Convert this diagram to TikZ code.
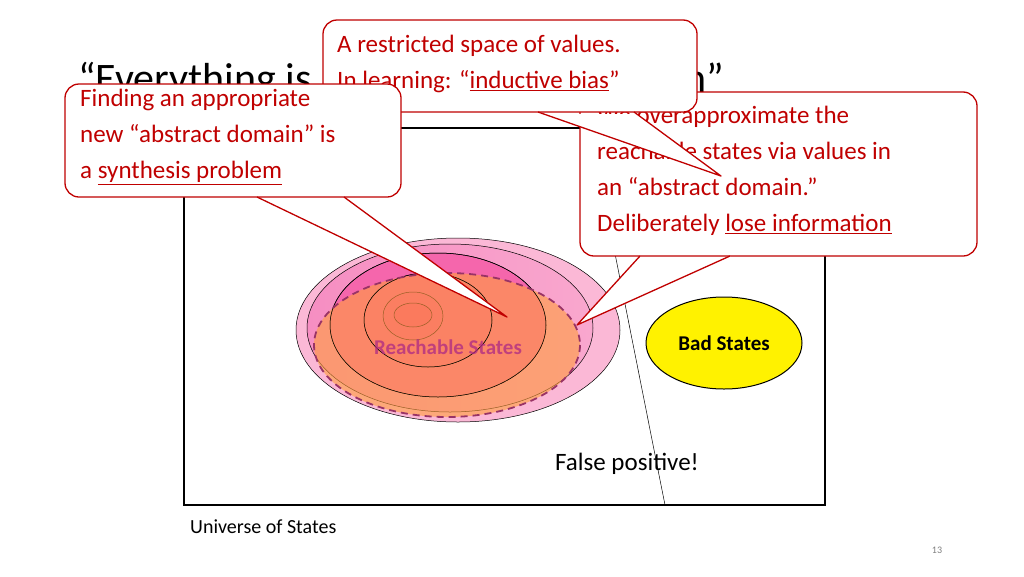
\documentclass[tikz,border=0pt]{standalone}
\usepackage{fontspec}
\setmainfont{Carlito}
\usetikzlibrary{shapes.geometric}
\definecolor{cred}{HTML}{C00000}
\definecolor{p1}{HTML}{FBB8D6}
\definecolor{p2}{HTML}{F68EC2}
\definecolor{p3}{HTML}{F566AC}
\definecolor{p4}{HTML}{F55AA2}
\definecolor{p5}{HTML}{F64E99}
\definecolor{p6}{HTML}{F74490}
\definecolor{orng}{HTML}{FF9E3C}
\definecolor{dpurp}{HTML}{993366}
\begin{document}
\begin{tikzpicture}[x=1pt,y=-1pt,
  ctext/.style={text=cred,align=left,anchor=north west,inner sep=0pt,font=\fontsize{25}{36}\selectfont},
  cbox/.style={draw=cred,fill=white,line width=1.3pt,rounded corners=14},
  cptr/.style={draw=cred,line width=1.3pt,line join=round}]
\tikzset{ell/.style={draw=black,line width=0.5pt}}
\useasboundingbox (0,0) rectangle (1024,576);
\fill[white] (0,0) rectangle (1024,576);
% title
\node[anchor=base west,inner sep=0pt,font=\fontsize{42}{48}\selectfont] (title) at (78,92) {“Everything is abstract interpretation”};
% universe
\draw[line width=1.5pt] (184,128) rectangle (825,505);
\coordinate (d1) at (590,128); \coordinate (d2) at (665,505);
\draw[line width=0.5pt] (d1) -- (d2);
% ellipses
\draw[ell,fill=p1] (458,330) ellipse [x radius=162,y radius=92];
\draw[ell,left color=p2,right color=p1!60!p2] (450,328) ellipse [x radius=143,y radius=84];
\draw[ell,fill=p3] (438,325) ellipse [x radius=108,y radius=72];
\draw[ell,fill=p4] (428,320) ellipse [x radius=64,y radius=47];
\draw[ell,fill=p5] (413,316) ellipse [x radius=30,y radius=24];
\draw[ell,fill=p6] (413,315) ellipse [x radius=19,y radius=12];
\fill[orng,opacity=0.6] (447,345) ellipse [x radius=133,y radius=72];
\draw[ell] (438,325) ellipse [x radius=108,y radius=72];
\draw[ell] (428,320) ellipse [x radius=64,y radius=47];
\draw[dpurp,line width=1.8pt,dash pattern=on 7pt off 5pt] (447,345) ellipse [x radius=133,y radius=72];
\node[text=dpurp!80!magenta,opacity=0.75,font=\bfseries\fontsize{21}{24}\selectfont] (reach) at (448,347) {Reachable States};
% bad states
\node[draw=black,line width=1pt,fill=yellow,ellipse,minimum width=156pt,minimum height=92pt,font=\bfseries\fontsize{21}{24}\selectfont,inner sep=0pt] (bad) at (724,343) {Bad States};
\node[font=\fontsize{25}{30}\selectfont] (fp) at (627,464) {False positive!};
\node[font=\fontsize{20}{24}\selectfont,anchor=base west,inner sep=0pt] (uni) at (190,533) {Universe of States};
\node[font=\fontsize{10}{12}\selectfont,text=gray] (pg) at (937,550) {13};
% right callout
\coordinate (rt) at (577,325);
\coordinate (ra) at (640,256); \coordinate (rb) at (730,256);
\draw[cbox] (580,92) rectangle (977,256);
\fill[white] (ra) -- (rt) -- (rb) -- ([yshift=-2]rb) -- ([yshift=-2]ra) -- cycle;
\draw[cptr] (ra) -- (rt) -- (rb);
\node[ctext] (rtext) at (597,106) {We overapproximate the\\reachable states via values in\\an “abstract domain.”\\Deliberately \underline{lose information}};
% top callout
\coordinate (tt) at (721,176);
\coordinate (ta) at (538,112); \coordinate (tb) at (634,112);
\draw[cbox] (323,20) rectangle (697,112);
\fill[white] (ta) -- (tt) -- (tb) -- ([yshift=-2]tb) -- ([yshift=-2]ta) -- cycle;
\draw[cptr] (ta) -- (tt) -- (tb);
\node[ctext] (ttext) at (337,35) {A restricted space of values.\\In learning: “\underline{inductive bias}”};
% left callout
\coordinate (lt) at (507,317);
\coordinate (la) at (257,197); \coordinate (lb) at (344,197);
\draw[cbox] (65,84) rectangle (401,197);
\fill[white] (la) -- (lt) -- (lb) -- ([yshift=-2]lb) -- ([yshift=-2]la) -- cycle;
\draw[cptr] (la) -- (lt) -- (lb);
\node[ctext] (ltext) at (80,89) {Finding an appropriate\\new “abstract domain” is\\a \underline{synthesis problem}};
\end{tikzpicture}
\end{document}
